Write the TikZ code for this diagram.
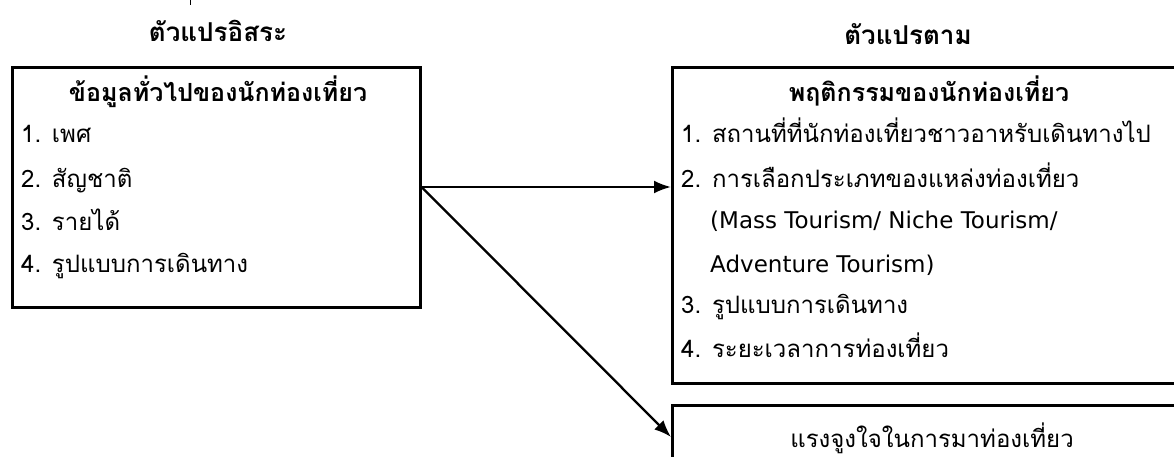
\documentclass[tikz,border=0pt]{standalone}
\usepackage{fontspec}
\setmainfont[Script=Thai]{Loma}
\newfontfamily\latinfont{DejaVu Sans}
\usetikzlibrary{arrows.meta}
\begin{document}
\begin{tikzpicture}[x=1pt,y=-1pt,
  box/.style={draw,line width=2.6pt,inner sep=0pt,anchor=north west},
  txt/.style={anchor=base west,inner sep=0pt,font=\fontsize{24}{28}\selectfont},
  lat/.style={anchor=base west,inner sep=0pt,font=\latinfont\fontsize{23}{27}\selectfont},
  ctr/.style={anchor=base,inner sep=0pt,font=\fontsize{24}{28}\selectfont},
  ttl/.style={anchor=base,inner sep=0pt,font=\fontsize{25}{29}\selectfont\bfseries},
  arr/.style={line width=2.3pt,-{Latex[length=17pt,width=13pt]}}]
\useasboundingbox (0,0) rectangle (1174,457);
\clip (0,0) rectangle (1174,457);
% fragment at top
\draw[line width=1pt] (190,0) -- (190,5);
% headings
\node[ttl,font=\fontsize{26}{30}\selectfont\bfseries] (h1) at (218,42) {ตัวแปรอิสระ};
\node[ttl,font=\fontsize{26}{30}\selectfont\bfseries] (h2) at (908,45) {ตัวแปรตาม};
% boxes
\node[box,minimum width=408pt,minimum height=240pt] (lbox) at (11,66) {};
\node[box,minimum width=530pt,minimum height=316pt] (rbox) at (671,66) {};
\node[box,minimum width=530pt,minimum height=120pt] (bbox) at (671,404) {};
% left box text
\node[ttl] (lt) at (218,102) {ข้อมูลทั่วไปของนักท่องเที่ยว};
\node[txt] (l1) at (21,143) {1. เพศ};
\node[txt] (l2) at (21,187) {2. สัญชาติ};
\node[txt] (l3) at (21,230) {3. รายได้};
\node[txt] (l4) at (21,272) {4. รูปแบบการเดินทาง};
% right box text
\node[ttl] (rt) at (929,102) {พฤติกรรมของนักท่องเที่ยว};
\node[txt] (r1) at (681,143) {1. สถานที่ที่นักท่องเที่ยวชาวอาหรับเดินทางไป};
\node[txt] (r2) at (681,188) {2. การเลือกประเภทของแหล่งท่องเที่ยว};
\node[lat] (r2b) at (710,228) {(Mass Tourism/ Niche Tourism/};
\node[lat] (r2c) at (710,272) {Adventure Tourism)};
\node[txt] (r3) at (681,313) {3. รูปแบบการเดินทาง};
\node[txt] (r4) at (681,357) {4. ระยะเวลาการท่องเที่ยว};
% bottom box text
\node[ctr] (bt) at (932,447) {แรงจูงใจในการมาท่องเที่ยว};
% connectors
\coordinate (src) at (lbox.east |- 0,187);
\coordinate (t1) at (rbox.west |- 0,187);
\coordinate (t2) at (bbox.west |- 0,437);
\draw[arr] (src) -- (t1);
\draw[arr] (src) -- (t2);
\end{tikzpicture}
\end{document}
